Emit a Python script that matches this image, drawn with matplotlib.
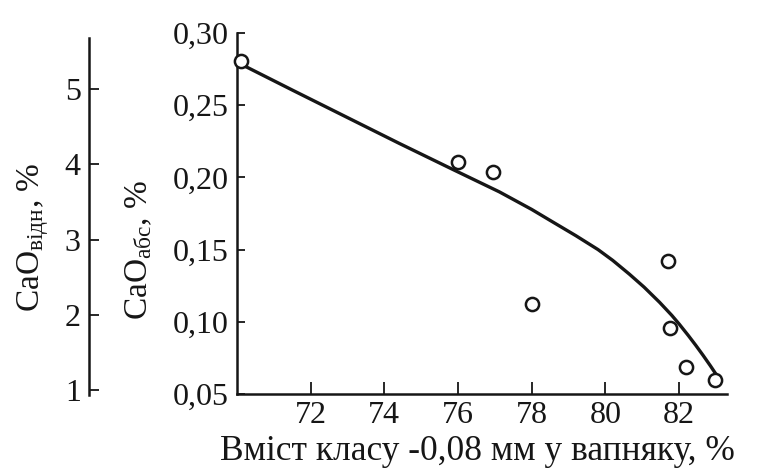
import matplotlib
matplotlib.use("Agg")
import matplotlib.pyplot as plt

plt.rcParams['font.family'] = ['Liberation Serif', 'DejaVu Serif']
plt.rcParams['mathtext.fontset'] = 'custom'
plt.rcParams['mathtext.rm'] = 'Liberation Serif'
plt.rcParams['mathtext.it'] = 'Liberation Serif:italic'
plt.rcParams['mathtext.bf'] = 'Liberation Serif:bold'

# measured points
pts_x = [70.12, 76.0, 76.95, 78.0, 81.69, 81.75, 82.2, 82.98]
pts_y = [0.2806, 0.2105, 0.2040, 0.1121, 0.1423, 0.0955, 0.0685, 0.0597]

# trend curve
curve_x = [70.24, 71.5, 73.04, 74.4, 75.85, 77.12, 78.0, 78.48, 79.2, 79.8, 80.2, 80.65,
           81.05, 81.47, 81.8, 82.0, 82.25, 82.45, 82.65, 82.85, 83.02]
curve_y = [0.2767, 0.2605, 0.2409, 0.2236, 0.2056, 0.1900, 0.1778, 0.1705, 0.1596, 0.1500,
           0.1425, 0.1330, 0.1240, 0.1135, 0.1045, 0.0985, 0.0905, 0.0838, 0.0768, 0.0695, 0.0630]

x_ticks = [72, 74, 76, 78, 80, 82]
x_ticklabels = ['72', '74', '76', '78', '80', '82']
abs_ticks = [0.05, 0.10, 0.15, 0.20, 0.25, 0.30]
abs_ticklabels = ['0,05', '0,10', '0,15', '0,20', '0,25', '0,30']
rel_ticks = [1, 2, 3, 4, 5]
rel_ticklabels = ['1', '2', '3', '4', '5']

W, H = 765, 475
fig = plt.figure(figsize=(W / 100, H / 100), dpi=100)
ink = '#161616'

ax = fig.add_axes([237 / W, 1 - 394 / H, (727 - 237) / W, (394 - 33) / H])
ax.set_xlim(70, 83.3)
ax.set_ylim(0.05, 0.30)
for s in ['top', 'right']:
    ax.spines[s].set_visible(False)
for s in ['left', 'bottom']:
    ax.spines[s].set_linewidth(1.8)
    ax.spines[s].set_color(ink)
ax.set_xticks(x_ticks)
ax.set_xticklabels(x_ticklabels)
ax.set_yticks(abs_ticks)
ax.set_yticklabels(abs_ticklabels)
ax.tick_params(axis='x', direction='in', length=9, width=1.3, labelsize=23, pad=5, colors=ink)
ax.tick_params(axis='y', direction='in', length=6, width=1.3, labelsize=23, pad=6, colors=ink)

ax.plot(curve_x, curve_y, color=ink, lw=2.4, zorder=2, solid_joinstyle='round')
ax.plot(pts_x, pts_y, 'o', ms=9.5, mfc='white', mec=ink, mew=1.8, zorder=3, clip_on=False)

fig.text(477 / W, 1 - 452 / H, 'Вміст класу -0,08 мм у вапняку, %', fontsize=25.5,
         ha='center', va='center', color=ink)
fig.text(139 / W, 1 - 250 / H, r'CaO$_{\mathrm{абс}}$, %', fontsize=24, rotation=90,
         ha='center', va='center', color=ink)

# outer relative axis
ax2 = fig.add_axes([89 / W, 1 - 395 / H, 0.0001, (395 - 38) / H])
ax2.set_ylim(0.934, 5.678)
for s in ['top', 'right', 'bottom']:
    ax2.spines[s].set_visible(False)
ax2.spines['left'].set_linewidth(1.8)
ax2.spines['left'].set_color(ink)
ax2.set_xticks([])
ax2.set_yticks(rel_ticks)
ax2.set_yticklabels(rel_ticklabels)
ax2.tick_params(axis='y', direction='in', length=7, width=1.3, labelsize=23, pad=6, colors=ink)
fig.text(33 / W, 1 - 237 / H, r'CaO$_{\mathrm{відн}}$, %', fontsize=24, rotation=90,
         ha='center', va='center', color=ink)

fig.savefig('out.png', dpi=100)
